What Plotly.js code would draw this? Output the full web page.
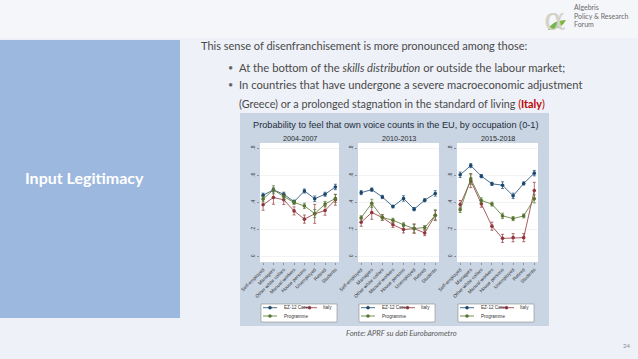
<!DOCTYPE html>
<html><head><meta charset="utf-8">
<script src="https://cdn.plot.ly/plotly-3.0.1.min.js"></script>
<style>html,body{margin:0;padding:0;background:#eef1f8;}#chart{width:638px;height:359px;}</style>
</head><body><div id="chart"></div>
<script>
// ---- Data ----
const categories = ['Self-employed','Managers','Other white collars','Manual workers','House persons','Unemployed','Retired','Students'];
const periods = ['2004-2007','2010-2013','2015-2018'];
const seriesNames = ['EZ-12 Core','Italy','Programme'];

const ez12_0407 = [0.454,0.493,0.461,0.406,0.485,0.428,0.461,0.515];
const italy_0407 = [0.383,0.437,0.420,0.338,0.277,0.316,0.341,0.420];
const prog_0407 = [0.425,0.494,0.444,0.400,0.375,0.318,0.388,0.430];

const ez12_1013 = [0.473,0.495,0.441,0.370,0.430,0.351,0.417,0.467];
const italy_1013 = [0.254,0.326,0.289,0.235,0.200,0.207,0.175,0.306];
const prog_1013 = [0.287,0.394,0.289,0.269,0.235,0.207,0.215,0.306];

const ez12_1518 = [0.605,0.673,0.595,0.538,0.528,0.449,0.541,0.617];
const italy_1518 = [0.385,0.560,0.390,0.225,0.135,0.140,0.140,0.489];
const prog_1518 = [0.346,0.575,0.415,0.388,0.301,0.281,0.301,0.427];

// confidence-interval half widths
const ez12_0407_ci = [0.015,0.015,0.015,0.012,0.015,0.020,0.015,0.020];
const italy_0407_ci = [0.040,0.050,0.035,0.030,0.030,0.070,0.035,0.040];
const prog_0407_ci = [0.020,0.030,0.020,0.015,0.020,0.030,0.020,0.030];
const ez12_1013_ci = [0.015,0.012,0.012,0.010,0.020,0.012,0.012,0.020];
const italy_1013_ci = [0.030,0.050,0.020,0.020,0.025,0.035,0.020,0.035];
const prog_1013_ci = [0.015,0.030,0.020,0.015,0.015,0.030,0.015,0.040];
const ez12_1518_ci = [0.020,0.015,0.012,0.012,0.025,0.020,0.012,0.020];
const italy_1518_ci = [0.030,0.050,0.025,0.030,0.030,0.030,0.030,0.060];
const prog_1518_ci = [0.020,0.040,0.020,0.015,0.020,0.015,0.015,0.030];

const yTickVals = [0,0.2,0.4,0.6,0.8];
const yTickText = ['0','.2','.4','.6','.8'];

// ---- Styles ----
const W = 638, H = 359;
const colors = ['#1a476f','#90353b','#55752f'];
const px = x => x / W;
const py = y => 1 - y / H;

const panels = [
  {vals:[ez12_0407, italy_0407, prog_0407], ci:[ez12_0407_ci, italy_0407_ci, prog_0407_ci], x0:260, x1:339},
  {vals:[ez12_1013, italy_1013, prog_1013], ci:[ez12_1013_ci, italy_1013_ci, prog_1013_ci], x0:358, x1:439},
  {vals:[ez12_1518, italy_1518, prog_1518], ci:[ez12_1518_ci, italy_1518_ci, prog_1518_ci], x0:457, x1:538}
];
const plotTop = 143, plotBot = 262;

const traces = [];
const layout = {
  width: W, height: H,
  margin: {l:0,r:0,t:0,b:0},
  paper_bgcolor: '#eef1f8',
  plot_bgcolor: 'rgba(0,0,0,0)',
  showlegend: false,
  font: {family: 'Liberation Sans, Arial, sans-serif', color:'#333'},
  shapes: [], annotations: []
};

// background shapes
layout.shapes.push({type:'rect', xref:'paper', yref:'paper', x0:0, x1:1, y0:py(38), y1:1, fillcolor:'#f5f6fa', line:{width:0}, layer:'below'});
layout.shapes.push({type:'rect', xref:'paper', yref:'paper', x0:0, x1:px(180), y0:py(318), y1:py(40), fillcolor:'#9cb8de', line:{width:0}, layer:'below'});
layout.shapes.push({type:'rect', xref:'paper', yref:'paper', x0:px(240), x1:px(549), y0:py(326), y1:py(113), fillcolor:'#c9d5e3', line:{width:0}, layer:'below'});

panels.forEach((p, i) => {
  const sfx = i === 0 ? '' : String(i+1);
  const xa = 'xaxis' + sfx, ya = 'yaxis' + sfx;
  layout[xa] = {
    domain:[px(p.x0), px(p.x1)], anchor:'y'+sfx, type:'category',
    range:[-0.3, 7.35], tickangle:-45, tickfont:{size:4.8, color:'#333'},
    ticks:'outside', ticklen:2, tickcolor:'#666', tickwidth:0.6,
    showgrid:false, zeroline:false, showline:false, fixedrange:true
  };
  layout[ya] = {
    domain:[py(plotBot), py(plotTop)], anchor:'x'+sfx,
    range:[-0.04, 0.84], tickvals:yTickVals, ticktext:yTickText,
    tickangle:-90, tickfont:{size:5, color:'#333'},
    ticks:'outside', ticklen:2, tickcolor:'#666', tickwidth:0.6,
    showgrid:true, gridcolor:'#ebebeb', gridwidth:0.6,
    zeroline:false, showline:false, fixedrange:true
  };
  // white plot region
  layout.shapes.push({type:'rect', xref:'x'+sfx+' domain', yref:'y'+sfx+' domain', x0:0, x1:1, y0:0, y1:1, fillcolor:'#ffffff', line:{width:0}, layer:'below'});
  // panel subtitle
  layout.annotations.push({xref:'paper', yref:'paper', x:px((p.x0+p.x1)/2), y:py(138), text:periods[i], showarrow:false, font:{size:7.2, color:'#2b2b2b'}, xanchor:'center', yanchor:'middle'});

  p.vals.forEach((v, s) => {
    traces.push({
      type:'scatter', mode:'lines+markers', name:seriesNames[s],
      x:categories, y:v, xaxis:'x'+sfx, yaxis:'y'+sfx,
      line:{color:colors[s], width:0.8},
      marker:{color:colors[s], size:3.6, symbol:'circle'},
      error_y:{type:'data', array:p.ci[s], visible:true, color:colors[s], thickness:0.7, width:1.5},
      showlegend:false, hoverinfo:'skip'
    });
  });

  // manual legend box
  const off = p.x0 - 260;
  layout.shapes.push({type:'rect', xref:'paper', yref:'paper', x0:px(261+off), x1:px(337+off), y0:py(322), y1:py(304), fillcolor:'#ffffff', line:{color:'#8a8a8a', width:0.6}, layer:'below'});
  const items = [
    {s:0, lx0:263, lx1:277, ty:307.7, tx:282},
    {s:1, lx0:302, lx1:317, ty:307.7, tx:321},
    {s:2, lx0:263, lx1:277, ty:316, tx:282}
  ];
  items.forEach(it => {
    const c = colors[it.s];
    layout.shapes.push({type:'line', xref:'paper', yref:'paper', x0:px(it.lx0+off), x1:px(it.lx1+off), y0:py(it.ty), y1:py(it.ty), line:{color:c, width:0.8}, layer:'below'});
    const mx = (it.lx0+it.lx1)/2 + off;
    layout.shapes.push({type:'circle', xref:'paper', yref:'paper', x0:px(mx-1.6), x1:px(mx+1.6), y0:py(it.ty+1.6), y1:py(it.ty-1.6), fillcolor:c, line:{color:c, width:0.3}, layer:'below'});
    layout.annotations.push({xref:'paper', yref:'paper', x:px(it.tx+off), y:py(it.ty), text:seriesNames[it.s], showarrow:false, xanchor:'left', yanchor:'middle', font:{size:4.6, color:'#333'}});
  });
});

// chart title
layout.annotations.push({xref:'paper', yref:'paper', x:px(251), y:py(125), text:'Probability to feel that own voice counts in the EU, by occupation (0-1)', showarrow:false, xanchor:'left', yanchor:'middle', font:{size:9.2, color:'#1f2b3a'}});

// slide texts
const slideFont = 'Lato, "Open Sans", sans-serif';
const bodyCol = '#4a4a4a';
layout.annotations.push({xref:'paper', yref:'paper', x:px(84), y:py(177), text:'Input Legitimacy', showarrow:false, xanchor:'center', yanchor:'middle', font:{size:16, color:'#ffffff', family:slideFont, weight:700}});
layout.annotations.push({xref:'paper', yref:'paper', x:px(199), y:py(45), text:'This sense of disenfranchisement is more pronounced among those:', showarrow:false, xanchor:'left', yanchor:'middle', font:{size:11, color:bodyCol, family:slideFont}});
layout.annotations.push({xref:'paper', yref:'paper', x:px(226), y:py(67), text:'•', showarrow:false, xanchor:'left', yanchor:'middle', font:{size:9, color:'#666', family:slideFont}});
layout.annotations.push({xref:'paper', yref:'paper', x:px(226), y:py(85), text:'•', showarrow:false, xanchor:'left', yanchor:'middle', font:{size:9, color:'#666', family:slideFont}});
layout.annotations.push({xref:'paper', yref:'paper', x:px(237), y:py(67), text:'At the bottom of the <i>skills distribution</i> or outside the labour market;', showarrow:false, xanchor:'left', yanchor:'middle', font:{size:11.2, color:bodyCol, family:slideFont}});
layout.annotations.push({xref:'paper', yref:'paper', x:px(237), y:py(85), text:'In countries that have undergone a severe macroeconomic adjustment', showarrow:false, xanchor:'left', yanchor:'middle', font:{size:11.2, color:bodyCol, family:slideFont}});
layout.annotations.push({xref:'paper', yref:'paper', x:px(237), y:py(103), text:'(Greece) or a prolonged stagnation in the standard of living <span style="color:#c00000">(<b>Italy</b>)</span>', showarrow:false, xanchor:'left', yanchor:'middle', font:{size:10.8, color:bodyCol, family:slideFont}});
layout.annotations.push({xref:'paper', yref:'paper', x:px(344), y:py(333), text:'<i>Fonte: APRF su dati Eurobarometro</i>', showarrow:false, xanchor:'left', yanchor:'middle', font:{size:7.6, color:'#5a5a5a', family:slideFont}});
layout.annotations.push({xref:'paper', yref:'paper', x:px(626), y:py(345), text:'24', showarrow:false, xanchor:'center', yanchor:'middle', font:{size:6, color:'#8c8c8c', family:slideFont}});

// logo
layout.annotations.push({xref:'paper', yref:'paper', x:px(555), y:py(19), text:'α', showarrow:false, xanchor:'center', yanchor:'middle', font:{size:32, color:'#d3d3c8', family:'DejaVu Serif, serif'}});
layout.shapes.push({type:'path', xref:'paper', yref:'paper', path:'M '+px(548)+','+py(30)+' Q '+px(552)+','+py(20)+' '+px(566)+','+py(20)+' Q '+px(562)+','+py(29)+' '+px(548)+','+py(30)+' Z', fillcolor:'#79b542', line:{width:0}, layer:'above'});
layout.annotations.push({xref:'paper', yref:'paper', x:px(572), y:py(7), text:'Algebris', showarrow:false, xanchor:'left', yanchor:'middle', font:{size:7, color:'#6a6a6a', family:slideFont}});
layout.annotations.push({xref:'paper', yref:'paper', x:px(572), y:py(15.5), text:'Policy & Research', showarrow:false, xanchor:'left', yanchor:'middle', font:{size:7, color:'#6a6a6a', family:slideFont}});
layout.annotations.push({xref:'paper', yref:'paper', x:px(572), y:py(24), text:'Forum', showarrow:false, xanchor:'left', yanchor:'middle', font:{size:7, color:'#6a6a6a', family:slideFont}});

Plotly.newPlot('chart', traces, layout, {staticPlot:true, displayModeBar:false});
</script>
</body></html>
